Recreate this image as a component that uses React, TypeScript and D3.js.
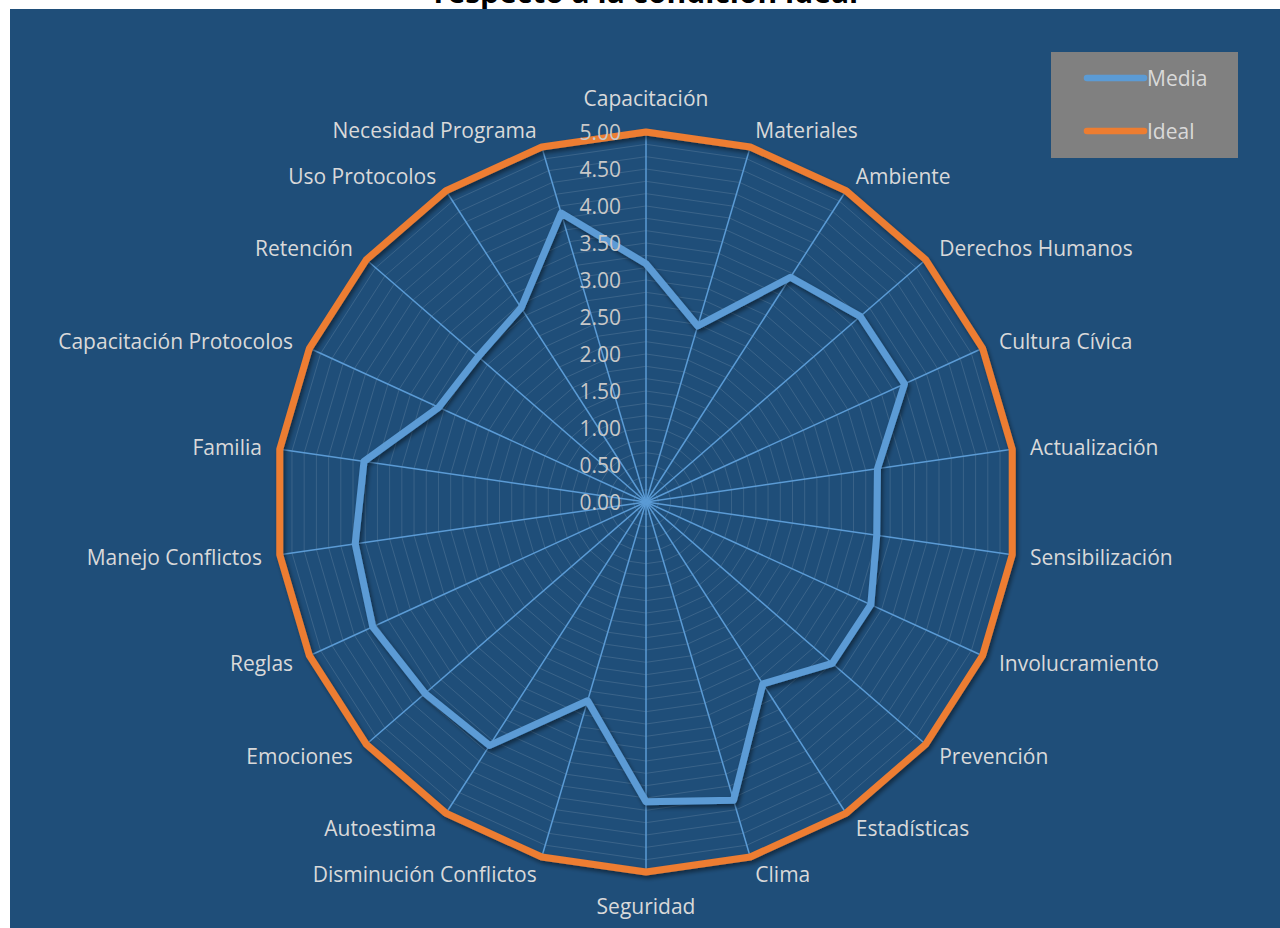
import React from "react";
import * as d3 from "d3";

const categories = [
  "Capacitación", "Materiales", "Ambiente", "Derechos Humanos", "Cultura Cívica",
  "Actualización", "Sensibilización", "Involucramiento", "Prevención", "Estadísticas",
  "Clima", "Seguridad", "Disminución Conflictos", "Autoestima", "Emociones", "Reglas",
  "Manejo Conflictos", "Familia", "Capacitación Protocolos", "Retención",
  "Uso Protocolos", "Necesidad Programa",
];
const mediaValues = [
  3.22, 2.48, 3.61, 3.83, 3.84, 3.16, 3.15, 3.34, 3.33, 2.92, 4.2,
  4.05, 2.8, 3.91, 3.95, 4.06, 3.97, 3.85, 3.08, 3.0, 3.12, 4.07,
];
const idealValues = categories.map(() => 5);
const tickValues = [0, 0.5, 1, 1.5, 2, 2.5, 3, 3.5, 4, 4.5, 5];
const seriesNames = ["Media", "Ideal"];
const seriesColors = ["#5B9BD5", "#ED7D31"];

const W = 1280, H = 928;
const cx = 646, cy = 502, R = 370;
const FONT = "'Open Sans', 'Noto Sans', sans-serif";

export default function App() {
  const r = d3.scaleLinear().domain([0, 5]).range([0, R]);
  const n = categories.length;
  const angle = (i: number) => (i * 2 * Math.PI) / n;
  const radial = d3
    .lineRadial<number>()
    .angle((_, i) => angle(i))
    .radius((v) => r(v))
    .curve(d3.curveLinearClosed);
  const minorRings = d3.range(1, 31).map((k) => (k * 5) / 30);

  return (
    <svg width={W} height={H} style={{ position: "absolute", left: 0, top: 0 }}>
      <defs>
        <filter id="shadow" x="-20%" y="-20%" width="140%" height="140%">
          <feDropShadow dx="2" dy="3" stdDeviation="2" floodColor="#000" floodOpacity="0.45" />
        </filter>
      </defs>
      <rect x={0} y={0} width={W} height={H} fill="#fff" />
      <text x={646} y={3} textAnchor="middle" fontFamily={FONT} fontWeight="bold" fontSize={30} fill="#000">
        respecto a la condición ideal
      </text>
      <rect x={10} y={9} width={W - 10} height={H - 9} fill="#1F4E79" />

      <g transform={`translate(${cx},${cy})`}>
        {minorRings.map((v, k) => (
          <path key={"ring" + k} d={radial(categories.map(() => v)) || ""} fill="none"
            stroke="#ffffff" strokeOpacity={0.12} strokeWidth={1} />
        ))}
        {categories.map((c, i) => {
          const a = angle(i);
          return (
            <line key={"spoke" + i} x1={0} y1={0} x2={r(5) * Math.sin(a)} y2={-r(5) * Math.cos(a)}
              stroke="#5B9BD5" strokeWidth={1.5} />
          );
        })}
        <path d={radial(idealValues) || ""} fill="none" stroke={seriesColors[1]} strokeWidth={7}
          strokeLinejoin="round" filter="url(#shadow)" />
        <path d={radial(mediaValues) || ""} fill="none" stroke={seriesColors[0]} strokeWidth={7}
          strokeLinejoin="round" filter="url(#shadow)" />
        {tickValues.map((t) => (
          <text key={"tick" + t} x={-25} y={-r(t)} textAnchor="end" dominantBaseline="central"
            fontFamily={FONT} fontSize={21} fill="#C8C8C8">
            {t.toFixed(2)}
          </text>
        ))}
        {categories.map((c, i) => {
          const a = angle(i);
          const s = Math.sin(a), co = Math.cos(a);
          const px = (r(5) + 18) * s;
          const py = -(r(5) + 18) * co;
          let anchor = "start";
          let y = py;
          if (Math.abs(s) < 0.01) {
            anchor = "middle";
            y = co > 0 ? py - 16 : py + 16;
          } else if (s < 0) anchor = "end";
          return (
            <text key={"lab" + i} x={px} y={y} textAnchor={anchor} dominantBaseline="central"
              fontFamily={FONT} fontSize={21} fill="#D9D9D9">
              {c}
            </text>
          );
        })}
      </g>

      <rect x={1051} y={52} width={187} height={106} fill="#808080" />
      {seriesNames.map((s, i) => (
        <g key={"leg" + s}>
          <line x1={1087} x2={1144} y1={78 + i * 53} y2={78 + i * 53} stroke={seriesColors[i]}
            strokeWidth={6.5} strokeLinecap="round" />
          <text x={1147} y={78 + i * 53} dominantBaseline="central" fontFamily={FONT} fontSize={21}
            fill="#D9D9D9">
            {s}
          </text>
        </g>
      ))}
    </svg>
  );
}
